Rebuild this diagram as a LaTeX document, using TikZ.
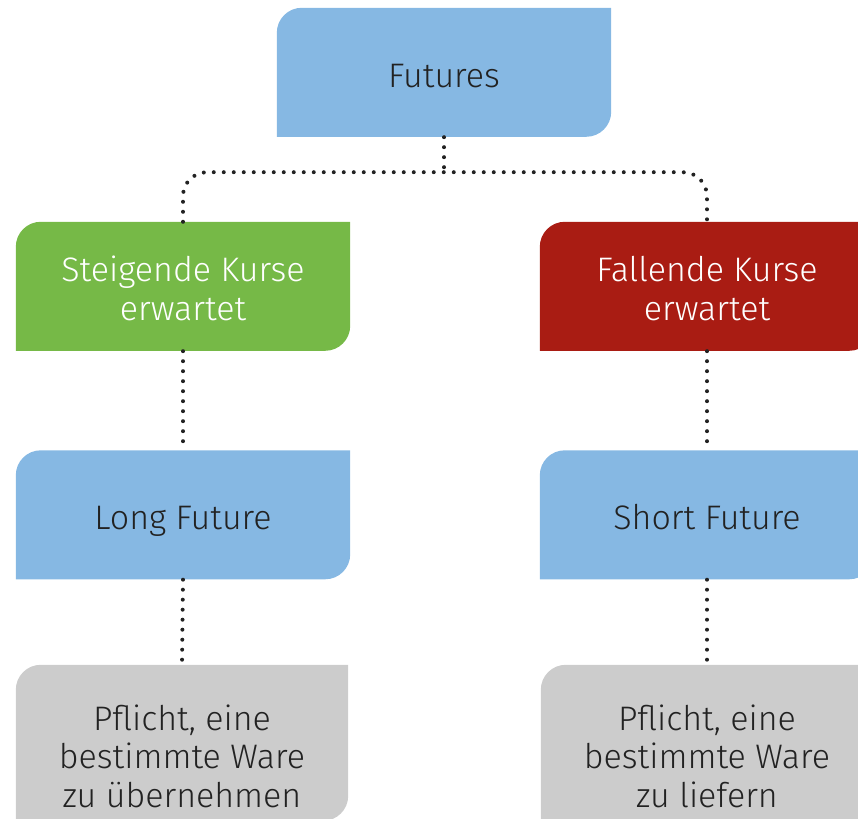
\documentclass[tikz,border=0pt]{standalone}
\usepackage{fontspec}
\setmainfont{Fira Sans}[UprightFont=* Light]
\usetikzlibrary{backgrounds}

\definecolor{panelblue}{HTML}{86B8E3}
\definecolor{panelgreen}{HTML}{76B947}
\definecolor{panelred}{HTML}{A91C13}
\definecolor{panelgray}{HTML}{CCCCCC}
\definecolor{inkdark}{HTML}{222222}

% struts: top of the first line and foot of the last line, so that
% the text block sits evenly in each panel
\newcommand\topln{\rule{0pt}{40pt}}
\newcommand\botln{\rule[-10.5pt]{0pt}{10.5pt}}

\tikzset{
  panel/.style={minimum width=334pt, minimum height=129pt, inner sep=0pt,
    align=center, text=inkdark, font=\fontsize{34}{38.5}\selectfont},
  lighttext/.style={text=white},
  dotline/.style={line width=4pt, line cap=round, dash pattern=on 0pt off 10pt,
    draw=inkdark},
}

\begin{document}
\begin{tikzpicture}[x=1pt,y=1pt]
  \useasboundingbox (0,0) rectangle (858,818);
  \clip (0,0) rectangle (858,818);

  % panels
  \node[panel] (futures) at (444,745.5) {\topln Futures\botln};
  \node[panel, lighttext] (up) at (183,531.5) {\topln Steigende Kurse\\erwartet\botln};
  \node[panel, lighttext] (down) at (707,531.5) {\topln Fallende Kurse\\erwartet\botln};
  \node[panel] (long) at (183,303) {\topln Long Future\botln};
  \node[panel] (short) at (707,303) {\topln Short Future\botln};
  \node[panel, minimum width=332pt, minimum height=178pt] (dutyL) at (182,64)
    {\topln Pflicht, eine\\bestimmte Ware\\zu übernehmen\botln};
  \node[panel, minimum width=332pt, minimum height=178pt] (dutyR) at (707,64)
    {\topln Pflicht, eine\\bestimmte Ware\\zu liefern\botln};

  % panel backgrounds: rounded top-left and bottom-right corners
  \begin{scope}[on background layer]
    \foreach \n/\c/\h in {futures/panelblue/129, up/panelgreen/129,
        down/panelred/129, long/panelblue/129, short/panelblue/129,
        dutyL/panelgray/156, dutyR/panelgray/156}{
      \fill[\c] (\n.north east) -- ([xshift=25pt]\n.north west)
        arc[start angle=90, end angle=180, radius=25pt]
        -- ([yshift=-\h pt]\n.north west)
        -- ([xshift=-25pt, yshift=-\h pt]\n.north east)
        arc[start angle=270, end angle=360, radius=25pt]
        -- cycle;
    }
  \end{scope}

  % dotted connectors
  \draw[dotline] (futures.south) -- ++(0,-35) coordinate (split);
  \draw[dotline, rounded corners=24pt] (up.north) |- (split) -| (down.north);
  \draw[dotline] (up.south) -- (long.north);
  \draw[dotline] (down.south) -- (short.north);
  \draw[dotline] (long.south) -- (dutyL.north);
  \draw[dotline] (short.south) -- (dutyR.north);
\end{tikzpicture}
\end{document}
